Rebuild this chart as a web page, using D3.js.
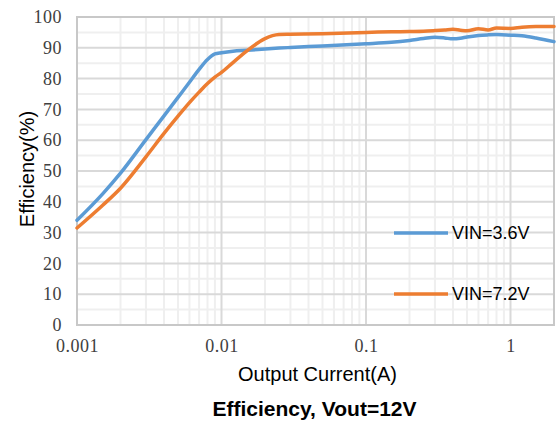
<!DOCTYPE html>
<html>
<head>
<meta charset="utf-8">
<script src="https://cdn.jsdelivr.net/npm/d3@7"></script>
<style>
  body { margin: 0; background: #fff; }
  .tick-label { font-family: "Liberation Serif", "DejaVu Serif", serif; font-size: 18px; fill: #404040; letter-spacing: 0.5px; }
  .axis-title { font-family: "Liberation Sans", Arial, sans-serif; font-size: 20px; fill: #000; }
  .legend-text { font-family: "Liberation Sans", Arial, sans-serif; font-size: 18px; fill: #000; }
  .chart-title { font-family: "Liberation Sans", Arial, sans-serif; font-size: 21px; font-weight: bold; fill: #000; }
</style>
</head>
<body>
<div class="bg"></div>
<script>
// output current (A), shared by both curves
const current = [0.001, 0.0015, 0.002, 0.003, 0.004, 0.005, 0.006, 0.007, 0.008, 0.009, 0.01,
  0.012, 0.015, 0.02, 0.025, 0.03, 0.05, 0.1, 0.15, 0.2, 0.25, 0.3, 0.35, 0.4, 0.45, 0.5,
  0.6, 0.7, 0.8, 1.0, 1.2, 1.5, 2.0];

// efficiency (%) for VIN=3.6V
const eff36 = [34, 42.5, 49.3, 60.2, 67.9, 73.9, 78.8, 83.0, 86.2, 88, 88.4,
  88.9, 89.2, 89.6, 89.9, 90.1, 90.6, 91.3, 91.8, 92.4, 93.0, 93.4, 93.2, 92.9, 93.1, 93.5,
  94.0, 94.2, 94.3, 94.1, 93.9, 93.2, 92.0];

// efficiency (%) for VIN=7.2V
const eff72 = [31.5, 38.8, 44.4, 54.6, 62.2, 67.8, 72.2, 75.6, 78.4, 80.5, 82.0,
  85.2, 89, 93, 94.3, 94.4, 94.6, 95.0, 95.2, 95.3, 95.4, 95.6, 95.8, 96.0, 95.7, 95.5,
  96.2, 95.8, 96.4, 96.3, 96.7, 96.9, 96.9];

const seriesNames = ["VIN=3.6V", "VIN=7.2V"];
const seriesColors = ["#5B9BD5", "#ED7D31"];

const xTicks = [0.001, 0.01, 0.1, 1];
const xTickLabels = ["0.001", "0.01", "0.1", "1"];
const yTicks = [0, 10, 20, 30, 40, 50, 60, 70, 80, 90, 100];

const margin = { top: 17, right: 2, bottom: 97, left: 77 };
const width = 556 - margin.left - margin.right;
const height = 422 - margin.top - margin.bottom;

const svg = d3.select(".bg").append("svg")
  .attr("width", width + margin.left + margin.right)
  .attr("height", height + margin.top + margin.bottom)
  .append("g")
  .attr("transform", "translate(" + margin.left + "," + margin.top + ")");

const xScale = d3.scaleLog().domain([0.001, 2]).range([0, width]);
const yScale = d3.scaleLinear().domain([0, 100]).range([height, 0]);

// minor gridlines: 2..9 in each decade, and every 5 %
const xMinor = [];
for (let d = 0.001; d < 2; d *= 10) {
  for (let k = 2; k <= 9; k++) {
    if (k * d < 2) xMinor.push(k * d);
  }
}
const yMinor = d3.range(5, 100, 10);

svg.selectAll(".xminor").data(xMinor).enter().append("line")
  .attr("x1", d => xScale(d)).attr("x2", d => xScale(d))
  .attr("y1", 0).attr("y2", height)
  .attr("stroke", "#efefef").attr("stroke-width", 2);

svg.selectAll(".yminor").data(yMinor).enter().append("line")
  .attr("x1", 0).attr("x2", width)
  .attr("y1", d => yScale(d)).attr("y2", d => yScale(d))
  .attr("stroke", "#efefef").attr("stroke-width", 2);

// major gridlines
svg.selectAll(".xmajor").data(xTicks).enter().append("line")
  .attr("x1", d => xScale(d)).attr("x2", d => xScale(d))
  .attr("y1", 0).attr("y2", height)
  .attr("stroke", "#d9d9d9").attr("stroke-width", 2);

svg.selectAll(".ymajor").data(yTicks).enter().append("line")
  .attr("x1", 0).attr("x2", width)
  .attr("y1", d => yScale(d)).attr("y2", d => yScale(d))
  .attr("stroke", "#d9d9d9").attr("stroke-width", 2);

// plot frame
svg.append("rect")
  .attr("x", 0).attr("y", 0)
  .attr("width", width).attr("height", height)
  .attr("fill", "none")
  .attr("stroke", "#c8c8c8").attr("stroke-width", 2);

// axes (labels only)
const xAxis = d3.axisBottom(xScale)
  .tickValues(xTicks)
  .tickFormat((d, i) => xTickLabels[i])
  .tickSize(0).tickPadding(14);

const yAxis = d3.axisLeft(yScale)
  .tickValues(yTicks)
  .tickSize(0).tickPadding(15);

const gx = svg.append("g")
  .attr("class", "x-axis")
  .attr("transform", "translate(0," + height + ")")
  .call(xAxis);

const gy = svg.append("g")
  .attr("class", "y-axis")
  .call(yAxis);

gx.select(".domain").remove();
gy.select(".domain").remove();
gx.selectAll("text").attr("class", "tick-label").attr("fill", null).attr("font-size", null);
gy.selectAll("text").attr("class", "tick-label").attr("fill", null).attr("font-size", null);
gx.attr("font-family", null).attr("font-size", null);
gy.attr("font-family", null).attr("font-size", null);

// curves
const line = d3.line()
  .x(d => xScale(d[0]))
  .y(d => yScale(d[1]))
  .curve(d3.curveMonotoneX);

[eff36, eff72].forEach((vals, i) => {
  svg.append("path")
    .datum(current.map((c, j) => [c, vals[j]]))
    .attr("fill", "none")
    .attr("stroke", seriesColors[i])
    .attr("stroke-width", 3.5)
    .attr("stroke-linejoin", "round")
    .attr("stroke-linecap", "round")
    .attr("d", line);
});

// legend
const legendY = [216, 277];
seriesNames.forEach((name, i) => {
  svg.append("line")
    .attr("x1", 317).attr("x2", 371)
    .attr("y1", legendY[i]).attr("y2", legendY[i])
    .attr("stroke", seriesColors[i])
    .attr("stroke-width", 3.5);
  svg.append("text")
    .attr("class", "legend-text")
    .attr("x", 375).attr("y", legendY[i])
    .attr("dy", "0.35em")
    .text(name);
});

// axis titles
svg.append("text")
  .attr("class", "axis-title")
  .attr("transform", "translate(" + (-50) + "," + (height / 2 - 2) + ") rotate(-90)")
  .attr("text-anchor", "middle")
  .attr("dy", "0.35em")
  .text("Efficiency(%)");

svg.append("text")
  .attr("class", "axis-title")
  .attr("x", width / 2 + 2)
  .attr("y", height + 56)
  .attr("text-anchor", "middle")
  .text("Output Current(A)");

svg.append("text")
  .attr("class", "chart-title")
  .attr("x", width / 2 - 1)
  .attr("y", height + 91)
  .attr("text-anchor", "middle")
  .text("Efficiency, Vout=12V");
</script>
</body>
</html>
